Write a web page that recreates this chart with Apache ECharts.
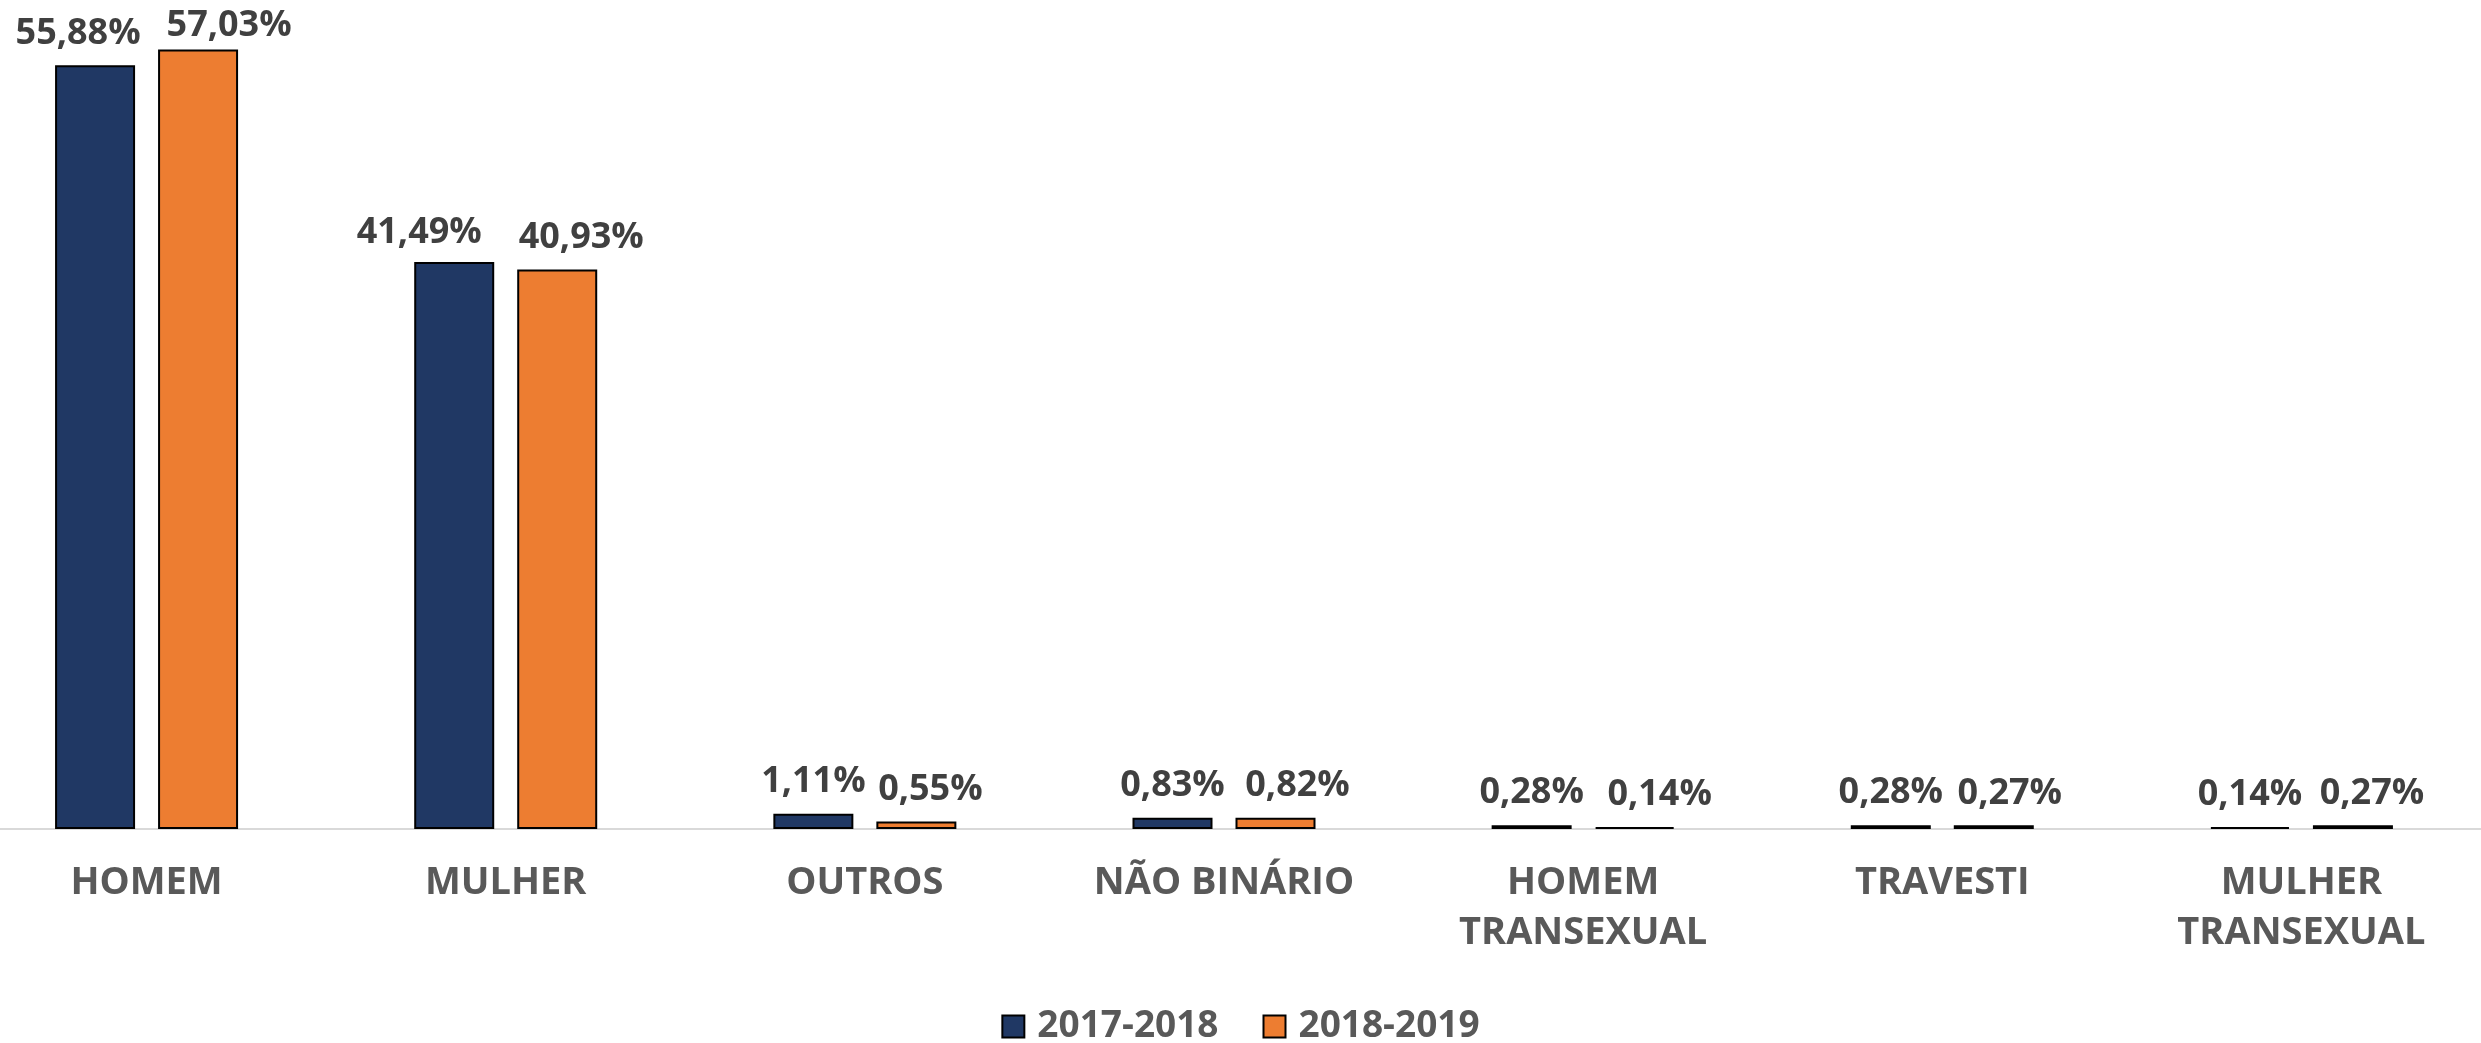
<!DOCTYPE html>
<html>
<head>
<meta charset="utf-8">
<script src="https://cdn.jsdelivr.net/npm/echarts@6/dist/echarts.min.js"></script>
<style>
  html, body { margin: 0; padding: 0; background: #fff; }
  #main { width: 2481px; height: 1043px; }
</style>
</head>
<body>
<div id="main"></div>
<script>
// categorias e valores (%)
const categories = ['HOMEM', 'MULHER', 'OUTROS', 'NÃO BINÁRIO', 'HOMEM\nTRANSEXUAL', 'TRAVESTI', 'MULHER\nTRANSEXUAL'];
const seriesNames = ['2017-2018', '2018-2019'];
const values2017 = [55.88, 41.49, 1.11, 0.83, 0.28, 0.28, 0.14];
const values2018 = [57.03, 40.93, 0.55, 0.82, 0.14, 0.27, 0.27];

// deslocamento dos rótulos (como o Excel afasta rótulos sobrepostos)
const offsets2017 = [[-17, 0], [-35, 3], [0, 0], [0, 0], [0, 0], [0, 0], [0, 0]];
const offsets2018 = [[31, 8], [24, 0], [14, 0], [22, 0], [25, 0], [16, 0], [19, 0]];

const font = '"Open Sans", "Liberation Sans", sans-serif';

function withOffsets(vals, offs) {
  return vals.map((v, i) => ({ value: v, label: { offset: offs[i] } }));
}

const myChart = echarts.init(document.getElementById('main'));

const labelStyle = {
  show: true,
  position: 'top',
  distance: 14,
  color: '#404040',
  fontFamily: font,
  fontWeight: 'bold',
  fontSize: 36,
  formatter: p => p.value.toFixed(2).replace('.', ',') + '%'
};

myChart.setOption({
  animation: false,
  grid: { left: -33, width: 2514, top: 9, bottom: 214, outerBoundsMode: 'none', containLabel: false },
  legend: {
    data: seriesNames,
    left: 'center',
    top: 1003,
    itemWidth: 22,
    itemHeight: 22,
    itemGap: 44,
    icon: 'rect',
    itemStyle: { borderColor: '#000', borderWidth: 2 },
    textStyle: {
      color: '#595959',
      fontFamily: font,
      fontWeight: 'bold',
      fontSize: 37,
      padding: [0, 0, 0, 8]
    }
  },
  xAxis: {
    type: 'category',
    data: categories,
    axisLine: { lineStyle: { color: '#d9d9d9', width: 2 } },
    axisTick: { show: false },
    axisLabel: {
      color: '#595959',
      fontFamily: font,
      fontWeight: 'bold',
      fontSize: 38,
      lineHeight: 50,
      margin: 29,
      interval: 0
    }
  },
  yAxis: {
    type: 'value',
    min: 0,
    max: 60,
    show: false,
    splitLine: { show: false }
  },
  series: [
    {
      name: seriesNames[0],
      type: 'bar',
      barWidth: 80,
      barGap: '28.75%',
      data: withOffsets(values2017, offsets2017),
      itemStyle: { color: '#203864', borderColor: '#000', borderWidth: 2 },
      label: labelStyle
    },
    {
      name: seriesNames[1],
      type: 'bar',
      barWidth: 80,
      barGap: '28.75%',
      data: withOffsets(values2018, offsets2018),
      itemStyle: { color: '#ed7d31', borderColor: '#000', borderWidth: 2 },
      label: labelStyle
    }
  ]
});
</script>
</body>
</html>
